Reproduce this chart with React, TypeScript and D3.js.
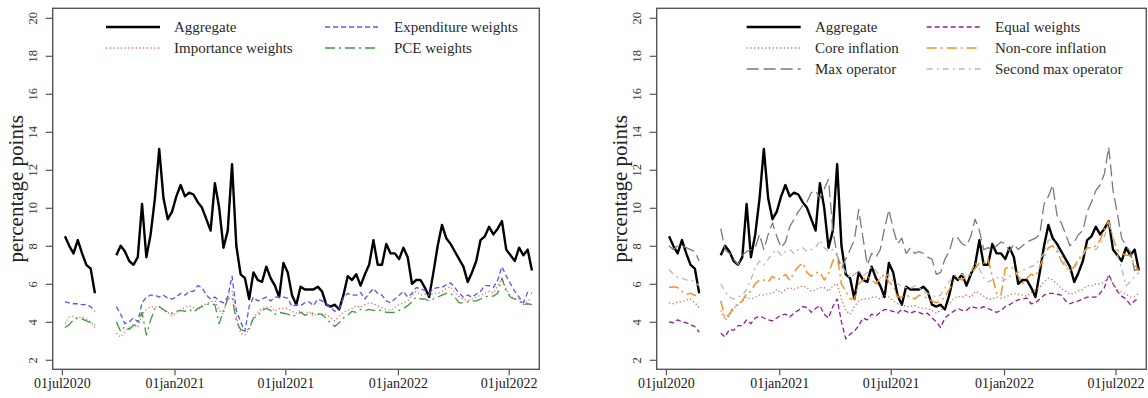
import { useEffect, useRef } from "react";
import * as d3 from "d3";

// weekly observations, first one on 06jul2020
const START_DATE = "2020-07-06";
const STEP_DAYS = 7;

const X_TICK_DATES = ["2020-07-01", "2021-01-01", "2021-07-01", "2022-01-01", "2022-07-01"];
const X_TICK_LABELS = ["01jul2020", "01jan2021", "01jul2021", "01jan2022", "01jul2022"];
const Y_TICKS = [2, 4, 6, 8, 10, 12, 14, 16, 18, 20];
const Y_LABEL = "percentage points";

const N = null;

const aggregate = [
  8.5, 8.0, 7.6, 8.3, 7.6, 7.0, 6.8, 5.5, N, N, N, N,
  7.5, 8.0, 7.7, 7.2, 7.0, 7.4, 10.2, 7.4, 8.6, 10.5, 13.1, 10.5, 9.4, 9.8, 10.6, 11.2, 10.6, 10.8, 10.7, 10.3,
  10.0, 9.4, 8.8, 11.3, 10.0, 7.9, 8.8, 12.3, 8.0, 6.5, 6.3, 5.2, 6.6, 6.2, 6.1, 6.9, 6.3, 5.9, 5.3, 7.1,
  6.6, 5.4, 4.9, 5.85, 5.7, 5.7, 5.7, 5.85, 5.6, 4.9, 4.8, 4.9, 4.65, 5.4, 6.4, 6.2, 6.5, 5.9, 6.5, 7.0,
  8.3, 7.0, 7.0, 8.1, 7.6, 7.6, 7.3, 7.9, 7.4, 6.0, 6.2, 6.2, 5.8, 5.3, 6.6, 8.0, 9.1, 8.4, 8.1, 7.7,
  7.3, 6.9, 6.1, 6.6, 7.2, 8.3, 8.5, 9.0, 8.6, 8.9, 9.3, 7.8, 7.5, 7.2, 7.9, 7.5, 7.8, 6.7,
];

const importance = [
  3.9, 4.25, 4.3, 4.2, 4.25, 4.15, 4.0, 3.7, N, N, N, N,
  3.4, 3.2, 3.5, 3.7, 3.85, 3.7, 4.4, 4.65, 4.8, 4.75, 4.8, 4.6, 4.5, 4.3, 4.5, 4.6, 4.75, 4.85, 4.75, 4.6,
  4.85, 4.95, 5.05, 5.1, 4.6, 4.4, 5.4, 5.6, 4.3, 3.4, 3.3, 3.6, 4.2, 4.5, 4.7, 4.75, 4.8, 4.55, 4.7, 4.7,
  4.7, 4.55, 4.45, 4.6, 4.35, 4.55, 4.3, 4.45, 4.35, 4.4, 4.2, 4.05, 4.3, 4.5, 4.6, 4.7, 4.85, 4.75, 4.9, 5.0,
  4.95, 4.85, 4.75, 4.65, 4.6, 4.75, 4.9, 5.0, 5.1, 5.4, 5.6, 5.4, 5.45, 5.4, 5.5, 5.5, 5.6, 5.75, 5.85, 5.55,
  5.3, 5.2, 5.1, 5.2, 5.3, 5.4, 5.5, 5.6, 5.5, 5.9, 6.3, 5.7, 5.35, 5.2, 5.2, 4.9, 5.1, 5.25,
];

const expenditure = [
  5.05, 5.0, 4.95, 4.95, 4.9, 4.9, 4.8, 4.55, N, N, N, N,
  4.8, 4.4, 3.9, 4.0, 4.2, 4.0, 5.0, 5.3, 5.4, 5.4, 5.3, 5.4, 5.25, 5.2, 5.3, 5.5, 5.4, 5.6, 5.6, 5.9,
  5.8, 5.4, 5.2, 5.3, 5.1, 5.0, 5.3, 6.4, 4.6, 4.0, 3.5, 4.8, 5.3, 5.1, 5.2, 5.3, 5.1, 5.3, 5.3, 5.3,
  5.25, 4.8, 4.9, 4.85, 5.0, 5.05, 4.85, 5.2, 5.1, 4.95, 4.75, 4.55, 4.7, 5.25, 5.5, 5.4, 5.4, 5.55, 5.2, 5.5,
  5.75, 5.5, 5.4, 5.1, 5.0, 5.2, 5.4, 5.6, 5.3, 5.5, 5.8, 5.75, 5.65, 5.5, 5.75, 5.8, 5.8, 5.95, 6.05, 5.8,
  5.5, 5.3, 5.4, 5.3, 5.45, 5.6, 5.9, 5.9, 5.8, 6.2, 6.9, 6.4, 6.0, 5.6, 5.3, 5.0, 5.55, 5.5,
];

const pce = [
  3.7, 3.85, 4.1, 4.2, 4.15, 4.05, 3.95, 3.85, N, N, N, N,
  4.0, 3.5, 3.75, 3.6, 3.8, 3.9, 4.5, 3.3, 4.1, 4.7, 4.8, 4.65, 4.5, 4.45, 4.55, 4.6, 4.55, 4.65, 4.5, 4.7,
  4.8, 4.9, 4.95, 4.9, 3.9, 4.6, 5.2, 5.3, 4.0, 3.6, 3.5, 3.65, 4.2, 4.3, 4.6, 4.7, 4.6, 4.4, 4.5, 4.45,
  4.4, 4.3, 4.35, 4.5, 4.35, 4.4, 4.45, 4.4, 4.4, 4.15, 3.95, 3.75, 3.95, 4.2, 4.35, 4.55, 4.5, 4.65, 4.6, 4.65,
  4.6, 4.6, 4.6, 4.5, 4.5, 4.5, 4.6, 4.7, 4.85, 5.05, 5.3, 5.2, 5.2, 5.1, 5.2, 5.3, 5.4, 5.5, 5.5, 5.3,
  5.0, 5.0, 5.05, 5.1, 5.1, 5.2, 5.3, 5.35, 5.35, 5.5, 6.3, 5.6, 5.3, 5.2, 5.1, 4.9, 4.95, 4.9,
];

const equal = [
  4.0, 3.95, 4.1, 4.0, 3.95, 3.85, 3.75, 3.45, N, N, N, N,
  3.4, 3.2, 3.6, 3.55, 3.8, 3.8, 4.1, 3.9, 4.2, 4.3, 4.2, 4.1, 4.05, 4.2, 4.35, 4.4, 4.25, 4.45, 4.6, 4.8,
  4.75, 4.5, 4.7, 4.85, 4.4, 4.2, 4.8, 5.2, 4.0, 3.1, 3.35, 3.5, 3.8, 4.2, 4.1, 4.4, 4.3, 4.5, 4.65, 4.6,
  4.55, 4.45, 4.65, 4.55, 4.45, 4.55, 4.5, 4.4, 4.45, 4.2, 4.0, 3.7, 4.2, 4.4, 4.55, 4.7, 4.6, 4.6, 4.8, 4.75,
  4.7, 4.8, 4.7, 4.6, 4.5, 4.6, 4.8, 4.9, 5.05, 5.15, 5.2, 5.25, 4.95, 5.0, 5.2, 5.4, 5.5, 5.5, 5.45, 5.4,
  5.1, 4.95, 5.05, 5.1, 5.2, 5.3, 5.3, 5.3, 5.5, 5.8, 6.5, 6.0, 5.6, 5.35, 5.2, 4.9, 5.1, 5.25,
];

const core = [
  5.0, 4.95, 5.05, 5.05, 5.15, 5.2, 5.0, 4.75, N, N, N, N,
  4.6, 4.1, 4.3, 4.7, 4.9, 5.1, 5.3, 5.2, 5.3, 5.4, 5.4, 5.5, 5.5, 5.7, 5.5, 5.7, 5.8, 5.7, 5.8, 5.9,
  5.8, 5.6, 5.7, 5.8, 5.8, 5.6, 5.9, 6.0, 5.2, 4.6, 4.4, 4.8, 5.1, 5.2, 5.2, 5.3, 5.3, 5.2, 5.4, 5.3,
  5.1, 4.95, 4.9, 4.8, 4.8, 4.85, 4.75, 4.7, 4.7, 4.6, 4.45, 4.6, 4.8, 4.95, 5.2, 5.35, 5.3, 5.4, 5.3, 5.6,
  5.5, 5.35, 5.2, 5.2, 5.3, 5.25, 5.3, 5.4, 5.5, 5.45, 5.4, 5.35, 5.55, 5.7, 5.8, 6.1, 6.3, 6.2, 6.0, 5.75,
  5.6, 5.45, 5.5, 5.65, 5.7, 5.9, 5.9, 6.0, 6.0, 6.1, 6.4, 6.0, 5.7, 5.55, 5.45, 5.3, 5.35, 5.5,
];

const noncore = [
  5.8, 5.85, 5.8, 5.6, 5.45, 5.5, 5.4, 5.25, N, N, N, N,
  5.1, 4.2, 4.4, 4.8, 4.9, 5.1, 5.5, 5.6, 6.0, 6.2, 6.2, 6.1, 6.4, 6.2, 6.3, 6.5, 6.2, 6.6, 6.9, 7.1,
  6.6, 6.4, 6.6, 6.6, 6.2, 6.5, 7.2, 7.5, 6.0, 5.6, 5.2, 5.2, 6.0, 6.2, 6.4, 6.2, 6.0, 6.3, 6.5, 6.1,
  5.9, 5.3, 5.3, 5.4, 5.3, 5.2, 5.4, 5.35, 5.2, 5.1, 5.0, 5.1, 5.3, 5.7, 6.1, 6.3, 6.2, 6.4, 6.5, 6.8,
  7.1, 7.1, 7.3, 6.4, 5.5, 5.4, 6.8, 6.9, 6.8, 6.4, 6.0, 6.3, 6.5, 6.4, 6.9, 7.4, 7.9, 8.0, 7.7, 7.2,
  6.9, 6.7, 6.9, 7.3, 7.6, 7.9, 7.9, 8.0, 8.3, 8.9, 9.3, 8.4, 7.8, 7.6, 7.5, 7.5, 7.0, 6.7,
];

const maxOperator = [
  8.0, 7.8, 8.0, 8.0, 7.9, 7.8, 7.7, 7.2, N, N, N, N,
  8.9, 7.8, 7.6, 7.3, 7.0, 7.5, 7.7, 7.8, 7.9, 8.6, 7.8, 8.6, 9.2, 8.5, 7.9, 8.2, 9.0, 9.4, 9.8, 10.1,
  10.3, 10.8, 10.9, 10.5, 11.0, 11.5, 8.8, 7.5, 6.8, 7.3, 7.8, 8.3, 9.9, 8.4, 7.0, 7.6, 7.4, 7.8, 8.9, 9.9,
  8.9, 8.1, 8.4, 7.6, 7.9, 7.6, 7.7, 7.6, 7.4, 7.3, 6.5, 6.6, 7.3, 7.7, 8.5, 8.4, 8.1, 8.0, 8.5, 9.4,
  8.8, 7.8, 7.9, 7.8, 8.0, 8.2, 8.1, 7.7, 8.1, 7.8, 8.0, 8.2, 8.3, 8.4, 8.6, 10.2, 10.6, 11.2, 9.6, 9.2,
  8.6, 8.0, 8.2, 8.6, 8.8, 9.8, 10.3, 10.9, 11.2, 11.8, 13.2, 10.9, 9.7, 8.4, 8.0, 7.7, 6.7, 6.8,
];

const secondMax = [
  6.75, 6.5, 6.35, 6.3, 6.2, 6.2, 6.1, 5.9, N, N, N, N,
  6.0, 5.6, 5.3, 5.2, 5.3, 5.4, 5.7, 6.2, 6.9, 7.2, 7.0, 7.3, 7.6, 7.8, 7.5, 7.7, 7.8, 7.6, 7.8, 7.9,
  7.7, 7.8, 7.9, 8.3, 7.9, 7.7, 7.8, 7.5, 7.0, 6.6, 6.3, 6.5, 6.7, 6.4, 6.6, 6.9, 6.7, 6.3, 6.4, 6.5,
  6.1, 6.0, 5.9, 5.8, 5.75, 5.9, 5.8, 5.6, 5.5, 5.4, 5.3, 5.4, 5.8, 6.1, 6.4, 6.5, 6.5, 6.3, 6.6, 7.1,
  6.8, 6.3, 6.1, 6.2, 6.3, 6.4, 6.2, 6.4, 6.4, 6.6, 6.7, 6.8, 6.9, 7.0, 7.3, 7.6, 8.3, 8.3, 7.9, 7.5,
  7.0, 6.7, 6.8, 7.2, 7.5, 7.9, 7.9, 7.8, 8.1, 8.5, 9.2, 8.5, 7.5, 6.8, 5.9, 6.1, 6.4, 6.6,
];

type Series = { name: string; values: (number | null)[]; color: string; width: number; dash: string };

const S_AGG: Series = { name: "Aggregate", values: aggregate, color: "#000", width: 2.4, dash: "" };

const leftSeries: Series[] = [
  S_AGG,
  { name: "Importance weights", values: importance, color: "#ee6a78", width: 1.3, dash: "1.3,2.4" },
  { name: "Expenditure weights", values: expenditure, color: "#5555f0", width: 1.3, dash: "5,3" },
  { name: "PCE weights", values: pce, color: "#3f9a3f", width: 1.3, dash: "10,4,2,4" },
];

const rightSeries: Series[] = [
  S_AGG,
  { name: "Equal weights", values: equal, color: "#8e1f8e", width: 1.3, dash: "5,3" },
  { name: "Core inflation", values: core, color: "#cc7456", width: 1.3, dash: "1.3,2.4" },
  { name: "Non-core inflation", values: noncore, color: "#f29420", width: 1.5, dash: "10,4,2,4" },
  { name: "Max operator", values: maxOperator, color: "#7a7a7a", width: 1.3, dash: "12,5" },
  { name: "Second max operator", values: secondMax, color: "#b8b8b8", width: 1.3, dash: "6,4,2,4" },
];

const panels = [
  {
    left: 52.7, right: 539.3, series: leftSeries,
    // legend: [line x0, text x] per column
    legendCols: [[106, 174], [325, 394]],
    legendOrder: [[0, 0], [0, 1], [1, 0], [1, 1]], // [col,row] for series i
  },
  {
    left: 656.7, right: 1146.3, series: rightSeries,
    legendCols: [[746.7, 815], [926.7, 995]],
    legendOrder: [[0, 0], [1, 0], [0, 1], [1, 1], [0, 2], [1, 2]],
  },
];

const TOP = 8.3;
const BOTTOM = 369.3;
const FONT = "'Liberation Serif', 'Times New Roman', serif";

export default function App() {
  const svgRef = useRef<SVGSVGElement>(null);

  useEffect(() => {
    const svg = d3.select(svgRef.current);
    svg.selectAll("*").remove();

    const start = new Date(START_DATE + "T00:00:00");
    const dates = aggregate.map((_, i) => d3.timeDay.offset(start, i * STEP_DAYS));
    const tickDates = X_TICK_DATES.map((d) => new Date(d + "T00:00:00"));

    const y = d3.scaleLinear().domain([1.5, 20.5]).range([BOTTOM, TOP]);

    panels.forEach((p) => {
      const x = d3
        .scaleTime()
        .domain([new Date("2020-06-16T00:00:00"), new Date("2022-08-20T00:00:00")])
        .range([p.left, p.right]);

      const g = svg.append("g");

      // data lines, aggregate first like the original plot
      p.series.forEach((s) => {
        const ln = d3
          .line<number | null>()
          .defined((v) => v != null)
          .x((_, i) => x(dates[i]))
          .y((v) => y(v as number));
        g.append("path")
          .attr("d", ln(s.values))
          .attr("fill", "none")
          .attr("stroke", s.color)
          .attr("stroke-width", s.width)
          .attr("stroke-dasharray", s.dash || null)
          .attr("stroke-linejoin", "round");
      });

      // box
      g.append("rect")
        .attr("x", p.left)
        .attr("y", TOP)
        .attr("width", p.right - p.left)
        .attr("height", BOTTOM - TOP)
        .attr("fill", "none")
        .attr("stroke", "#555")
        .attr("stroke-width", 1.4);

      // x axis
      const xAxis = d3
        .axisBottom(x)
        .tickValues(tickDates)
        .tickFormat((_, i) => X_TICK_LABELS[i])
        .tickSize(6)
        .tickSizeOuter(0)
        .tickPadding(3);
      const gx = g.append("g").attr("transform", `translate(0,${BOTTOM})`).call(xAxis);
      gx.select(".domain").remove();
      gx.selectAll("line").attr("stroke", "#555").attr("stroke-width", 1.2);
      gx.selectAll("text")
        .attr("font-family", FONT)
        .attr("font-size", 14)
        .attr("fill", "#222");

      // y axis, labels parallel to the axis
      const yAxis = d3.axisLeft(y).tickValues(Y_TICKS).tickSize(7).tickSizeOuter(0);
      const gy = g.append("g").attr("transform", `translate(${p.left},0)`).call(yAxis);
      gy.select(".domain").remove();
      gy.selectAll("line").attr("stroke", "#555").attr("stroke-width", 1.2);
      gy.selectAll("text")
        .attr("x", null)
        .attr("dy", null)
        .attr("transform", "translate(-19.5,0) rotate(-90)")
        .attr("text-anchor", "middle")
        .attr("dominant-baseline", "central")
        .attr("font-family", FONT)
        .attr("font-size", 12.5)
        .attr("fill", "#333");

      g.append("text")
        .attr("transform", `translate(${p.left - 37},${(TOP + BOTTOM) / 2}) rotate(-90)`)
        .attr("text-anchor", "middle")
        .attr("dominant-baseline", "central")
        .attr("font-family", FONT)
        .attr("font-size", 21)
        .attr("fill", "#222")
        .text(Y_LABEL);

      // legend
      p.series.forEach((s, i) => {
        const [col, row] = p.legendOrder[i];
        const [lx, tx] = p.legendCols[col];
        const ly = 27 + row * 21;
        g.append("line")
          .attr("x1", lx)
          .attr("x2", lx + 54)
          .attr("y1", ly)
          .attr("y2", ly)
          .attr("stroke", s.color)
          .attr("stroke-width", s.width)
          .attr("stroke-dasharray", s.dash || null);
        g.append("text")
          .attr("x", tx)
          .attr("y", ly)
          .attr("dominant-baseline", "central")
          .attr("font-family", FONT)
          .attr("font-size", 15)
          .attr("fill", "#2a2a2a")
          .text(s.name);
      });
    });
  }, []);

  return (
    <svg
      ref={svgRef}
      width={1148}
      height={398}
      style={{ position: "absolute", left: 0, top: 0, background: "#fff" }}
    />
  );
}
